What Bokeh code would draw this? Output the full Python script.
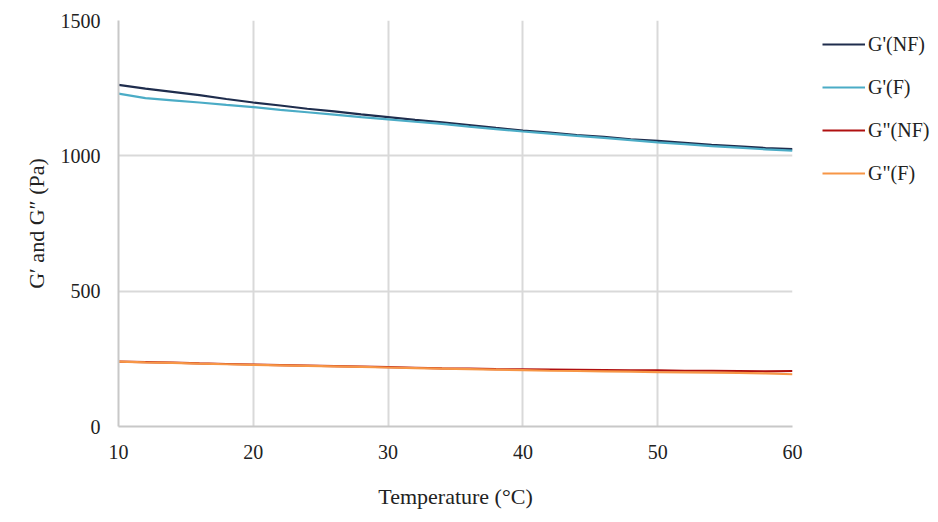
from bokeh.plotting import figure
from bokeh.models import Legend, LegendItem, FixedTicker, Range1d
from bokeh.embed import file_html
from bokeh.resources import INLINE

temperature = [10, 12, 14, 16, 18, 20, 22, 24, 26, 28, 30, 32, 34, 36, 38, 40,
               42, 44, 46, 48, 50, 52, 54, 56, 58, 60]
g1_nf = [1262, 1248, 1236, 1224, 1210, 1197, 1186, 1174, 1164, 1153, 1143, 1133, 1124,
         1114, 1103, 1093, 1086, 1077, 1070, 1061, 1055, 1048, 1041, 1035, 1029, 1025]
g1_f = [1230, 1213, 1205, 1197, 1188, 1180, 1170, 1161, 1152, 1143, 1135, 1126, 1118,
        1108, 1099, 1090, 1082, 1074, 1066, 1058, 1050, 1043, 1036, 1030, 1024, 1019]
g2_nf = [240, 238, 236, 233, 231, 229, 227, 225, 223, 221, 219, 217, 215, 214, 212, 211,
         210, 209, 208, 207, 207, 206, 206, 205, 204, 205]
g2_f = [240, 237, 235, 232, 230, 228, 226, 224, 222, 220, 218, 216, 214, 212, 210, 208,
        206, 205, 204, 203, 201, 200, 199, 198, 196, 193]
series_names = ["G'(NF)", "G'(F)", "G\"(NF)", "G\"(F)"]
series_colors = ["#1f2d4d", "#4bacc6", "#b01010", "#f79646"]
x_ticks = [10, 20, 30, 40, 50, 60]
y_ticks = [0, 500, 1000, 1500]

FONT = "Liberation Serif"

p = figure(frame_width=674, frame_height=406, width=930, height=514,
           min_border_left=118, min_border_right=138, min_border_top=20, min_border_bottom=88,
           output_backend="svg", toolbar_location=None,
           x_range=Range1d(10, 60), y_range=Range1d(0, 1500))
p.outline_line_color = None
p.background_fill_color = "white"
p.border_fill_color = "white"

for ax in (p.xaxis[0], p.yaxis[0]):
    ax.major_tick_line_color = None
    ax.minor_tick_line_color = None
    ax.axis_line_color = "#c8c8c8"
    ax.axis_line_width = 2
    ax.major_label_text_font = FONT
    ax.major_label_text_font_size = "20px"
    ax.major_label_text_color = "#222222"
    ax.axis_label_text_font = FONT
    ax.axis_label_text_font_size = "22px"
    ax.axis_label_text_font_style = "normal"
    ax.axis_label_text_color = "#222222"

p.xaxis.ticker = FixedTicker(ticks=x_ticks)
p.yaxis.ticker = FixedTicker(ticks=y_ticks)
p.xaxis.major_label_standoff = 12
p.yaxis.major_label_standoff = 12
p.xaxis.axis_label = "Temperature (°C)"
p.yaxis.axis_label = "G′ and G″ (Pa)"
p.xaxis.axis_label_standoff = 22
p.yaxis.axis_label_standoff = 9

p.xgrid.ticker = FixedTicker(ticks=x_ticks)
p.ygrid.ticker = FixedTicker(ticks=y_ticks)
p.grid.grid_line_color = "#d9d9d9"
p.grid.grid_line_width = 2

renderers = []
for ys, c in zip([g1_nf, g1_f, g2_nf, g2_f], series_colors):
    r = p.line(temperature, ys, line_color=c, line_width=2.2)
    renderers.append(r)

legend = Legend(items=[LegendItem(label=n, renderers=[r]) for n, r in zip(series_names, renderers)],
                location=(30, 241), border_line_color=None, background_fill_alpha=0,
                padding=10, margin=0, spacing=19, glyph_width=43, glyph_height=24,
                label_height=24, label_standoff=3,
                label_text_font=FONT, label_text_font_size="20px", label_text_color="#222222")
p.add_layout(legend, "right")

open("out.html", "w").write(file_html(p, INLINE))
